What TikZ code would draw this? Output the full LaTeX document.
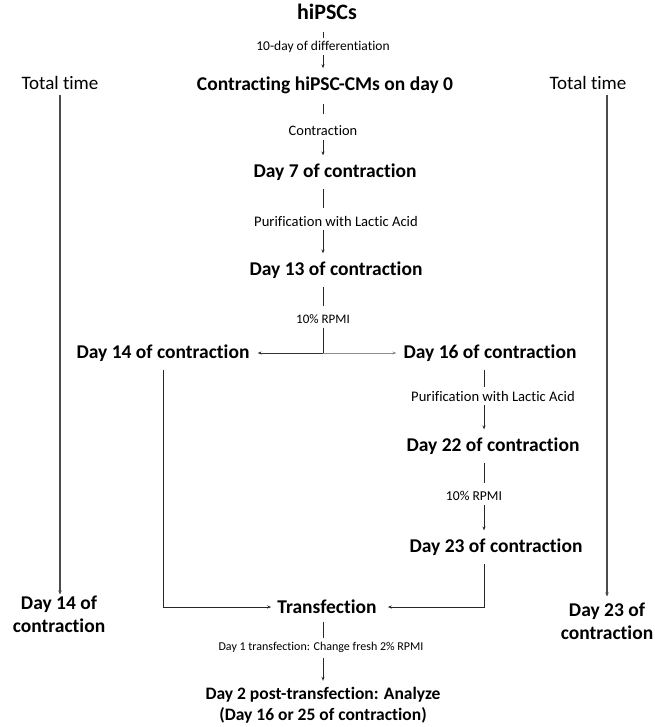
\documentclass[tikz,border=0pt]{standalone}
\usepackage{fontspec}
\setmainfont{Carlito}[Ligatures=NoCommon]
\usetikzlibrary{arrows.meta}
\begin{document}
\begin{tikzpicture}[x=1pt,y=-1pt,
  big/.style={font=\bfseries\fontsize{19.5}{23}\selectfont, inner sep=0pt, align=center},
  lab/.style={font=\fontsize{#1}{16}\selectfont, inner sep=0pt},
  lab/.default=14,
  tt/.style={font=\fontsize{19}{22}\selectfont, inner sep=0pt},
  ln/.style={draw=black!85, line width=0.8pt},
  arr/.style={ln, -{Stealth[length=4pt,width=3pt]}},
  tline/.style={draw=black!70, line width=1.3pt, -{Stealth[length=4pt,width=3.5pt]}}]
\useasboundingbox (0,0) rectangle (654,727);
\coordinate (cx) at (323,0);
\coordinate (rx) at (484,0);
% main column
\node[big, font=\bfseries\fontsize{22}{26}\selectfont] (hip) at (327,12) {hiPSCs};
\node[lab=13.5] (l1) at (323,47) {10-day of differentiation};
\node[big] (cm) at (325,85) {Contracting hiPSC-CMs on day 0};
\node[lab=14.4] (l2) at (323,131) {Contraction};
\node[big] (d7) at (335,172) {Day 7 of contraction};
\node[lab=14.6] (l3) at (336,221) {Purification with Lactic Acid};
\node[big] (d13) at (336,270) {Day 13 of contraction};
\node[lab=13] (l4) at (323,319) {10\% RPMI};
\coordinate (j) at (323,353);
\node[big] (d14) at (163,353) {Day 14 of contraction};
\node[big] (d16) at (490,353) {Day 16 of contraction};
\node[lab=14.6] (l5) at (493,396) {Purification with Lactic Acid};
\node[big] (d22) at (493,446) {Day 22 of contraction};
\node[lab=13.6] (l6) at (474,496) {10\% RPMI};
\node[big] (d23) at (496,547) {Day 23 of contraction};
\node[big] (tr) at (327,607) {Transfection};
\node[lab=12] (l7) at (321,647) {Day 1 transfection: Change fresh 2\% RPMI};
\node[big, font=\bfseries\fontsize{17.5}{21}\selectfont] (d2) at (323,705) {Day 2 post-transfection: Analyze\\(Day 16 or 25 of contraction)};
% side columns
\node[tt] (tt1) at (60,83) {Total time};
\node[tt] (tt2) at (588,83) {Total time};
\node[big] (e14) at (59,614) {Day 14 of\\contraction};
\node[big] (e23) at (607,621) {Day 23 of\\contraction};
% connectors, main column
\draw[ln, shorten <=12pt, shorten >=3pt] (hip.south -| cx) -- (l1.north -| cx);
\draw[arr, shorten <=2pt, shorten >=8pt] (l1.south -| cx) -- (cm.north -| cx);
\draw[ln, shorten <=10pt, shorten >=12pt] (cm.south -| cx) -- (l2.north -| cx);
\draw[arr, shorten <=4pt, shorten >=8pt] (l2.south -| cx) -- (d7.north -| cx);
\draw[ln, shorten <=8pt, shorten >=8pt] (d7.south -| cx) -- (l3.north -| cx);
\draw[arr, shorten <=4pt, shorten >=8pt] (l3.south -| cx) -- (d13.north -| cx);
\draw[ln, shorten <=8pt, shorten >=8pt] (d13.south -| cx) -- (l4.north -| cx);
\draw[ln, shorten <=4pt] (l4.south -| cx) -- (j);
\draw[arr, line width=1pt, draw=black!80, shorten >=8pt] (j) -- (d14);
\draw[arr, draw=black!45, shorten >=7pt] (j) -- (d16);
% right branch
\draw[ln, shorten <=8pt, shorten >=4pt] (d16.south -| rx) -- (l5.north -| rx);
\draw[arr, shorten <=4pt, shorten >=8pt] (l5.south -| rx) -- (d22.north -| rx);
\draw[ln, shorten <=8pt, shorten >=8pt] (d22.south -| rx) -- (l6.north -| rx);
\draw[arr, shorten <=4pt, shorten >=8pt] (l6.south -| rx) -- (d23.north -| rx);
\draw[arr, shorten <=8pt, shorten >=11pt] (d23.south -| rx) |- (tr.east);
\draw[arr, shorten <=8pt, shorten >=6pt] (d14.south) |- (tr.west);
% bottom
\draw[ln, shorten <=8pt, shorten >=4pt] (tr.south -| cx) -- (l7.north -| cx);
\draw[arr, shorten <=6pt, shorten >=6pt] (l7.south -| cx) -- (d2.north -| cx);
% total time
\draw[tline, shorten <=5pt, shorten >=1pt] (tt1) -- (tt1 |- e14.north);
\draw[tline, shorten <=5pt, shorten >=6pt] (tt2.south -| e23) -- (e23);
\end{tikzpicture}
\end{document}
